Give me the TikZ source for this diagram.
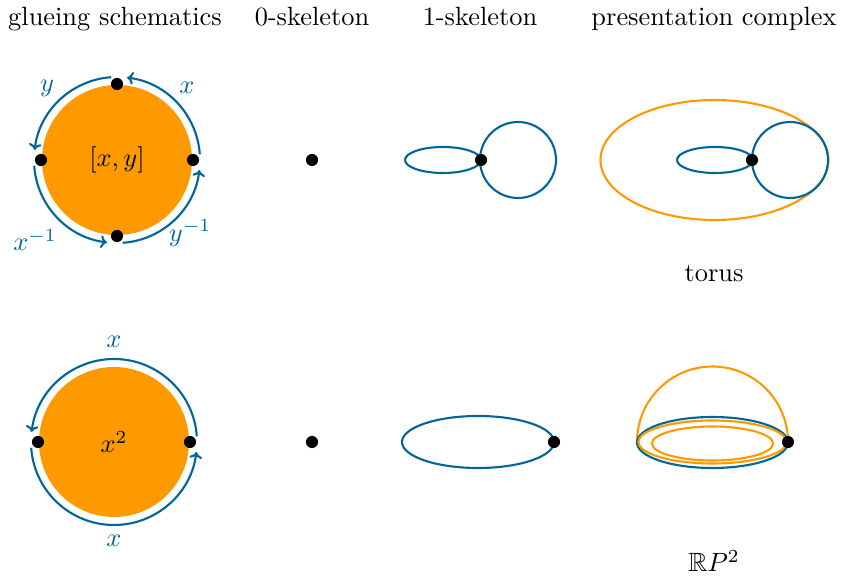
\documentclass[tikz,border=0pt]{standalone}
\usepackage{amssymb}
\usetikzlibrary{arrows.meta}
\definecolor{myblue}{RGB}{0,102,153}
\definecolor{myorange}{RGB}{255,153,0}
\begin{document}
\begin{tikzpicture}[x=0.379pt,y=0.379pt,
  dot/.style={circle,fill=black,inner sep=0pt,minimum size=4.6pt},
  bline/.style={myblue,line width=0.8pt},
  oline/.style={myorange,line width=0.8pt},
  garc/.style={myblue,line width=0.8pt,-{To[length=2.4pt,width=4.8pt]}},
  lbl/.style={text=myblue},
  title/.style={inner sep=0pt,anchor=base}]
\useasboundingbox (0,0) rectangle (841,584);
% titles
\node[title] (t1) at (115,558) {glueing schematics};
\node[title] (t2) at (312,558) {0-skeleton};
\node[title] (t3) at (480,558) {1-skeleton};
\node[title] (t4) at (714,558) {presentation complex};
% ---- top row: torus ----
\coordinate (c1) at (117,424);
\fill[myorange] (c1) circle[radius=75];
\node (w1) at (c1) {$[x,y]$};
\draw[garc] ([shift={(4:83)}]c1) arc[start angle=4,end angle=83,radius=83];
\draw[garc] ([shift={(94:83)}]c1) arc[start angle=94,end angle=173,radius=83];
\draw[garc] ([shift={(184:83)}]c1) arc[start angle=184,end angle=263,radius=83];
\draw[garc] ([shift={(274:83)}]c1) arc[start angle=274,end angle=353,radius=83];
\node[dot] (d1a) at ([shift={(0:76)}]c1) {};
\node[dot] (d1b) at ([shift={(90:76)}]c1) {};
\node[dot] (d1c) at ([shift={(180:76)}]c1) {};
\node[dot] (d1d) at ([shift={(270:76)}]c1) {};
\node[lbl] (l1) at (47,496) {$y$};
\node[lbl] (l2) at (187,496) {$x$};
\node[lbl] (l3) at (35,344) {$x^{-1}$};
\node[lbl] (l4) at (190,351) {$y^{-1}$};
% 0-skeleton
\node[dot] (z1) at (312,424) {};
% 1-skeleton
\draw[bline] (443,424) ellipse[x radius=38,y radius=13];
\draw[bline] (518,424) circle[radius=38];
\node[dot] (s1) at (481,424) {};
% presentation complex
\draw[oline] (714.5,424) ellipse[x radius=114,y radius=60];
\draw[bline] (715,424) ellipse[x radius=38,y radius=13];
\draw[bline] (790,424) circle[radius=38];
\node[dot] (p1) at (752,424) {};
\node[title] (n1) at (714,302) {torus};
% ---- bottom row: RP2 ----
\coordinate (c2) at (114,142);
\fill[myorange] (c2) circle[radius=75];
\node (w2) at (c2) {$x^2$};
\draw[garc] ([shift={(4:83)}]c2) arc[start angle=4,end angle=173,radius=83];
\draw[garc] ([shift={(184:83)}]c2) arc[start angle=184,end angle=353,radius=83];
\node[dot] (d2a) at ([shift={(0:76)}]c2) {};
\node[dot] (d2b) at ([shift={(180:76)}]c2) {};
\node[lbl] (l5) at (114,242) {$x$};
\node[lbl] (l6) at (114,43) {$x$};
% 0-skeleton
\node[dot] (z2) at (312,142) {};
% 1-skeleton
\draw[bline] (478,142) ellipse[x radius=76,y radius=26];
\node[dot] (s2) at (554,142) {};
% presentation complex
\draw[oline] (788,142) arc[start angle=0,end angle=180,radius=75.5];
\draw[bline] (712.5,141.5) ellipse[x radius=75.5,y radius=25.5];
\draw[oline] (712.5,142) ellipse[x radius=74,y radius=21.5];
\draw[oline] (712.5,140.5) ellipse[x radius=60.5,y radius=17];
\node[dot] (p2) at (788,142) {};
\node[title] (n2) at (714,12) {$\mathbb{R}P^2$};
\end{tikzpicture}
\end{document}
